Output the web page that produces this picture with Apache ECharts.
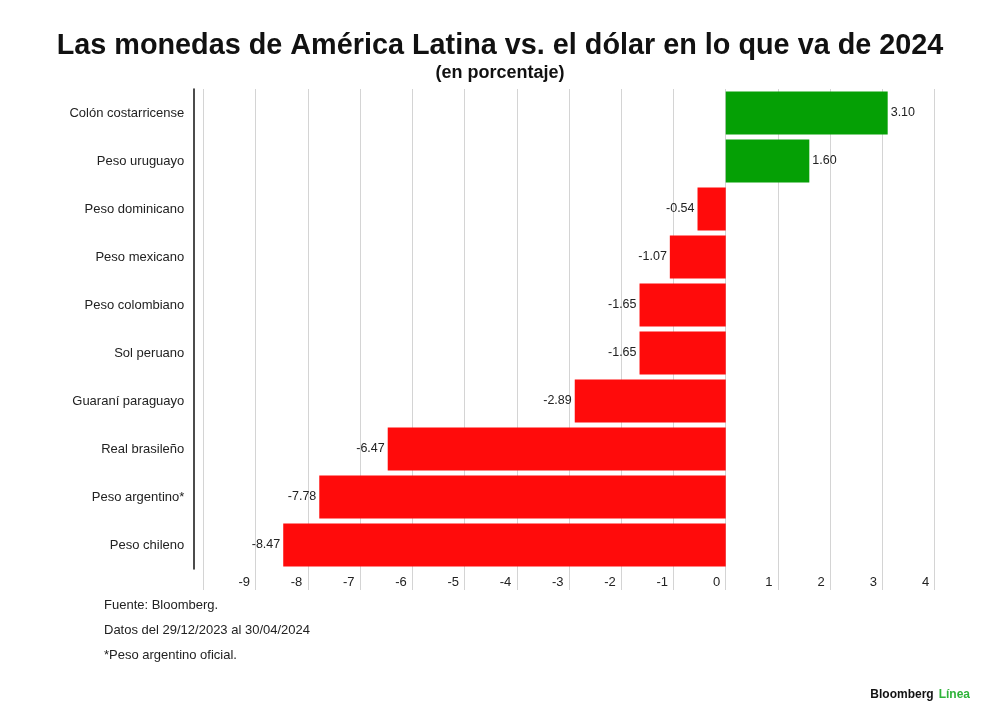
<!DOCTYPE html>
<html>
<head>
<meta charset="utf-8">
<script src="https://cdn.jsdelivr.net/npm/echarts@6/dist/echarts.min.js"></script>
<style>
  html, body { margin: 0; padding: 0; background: #fff; }
  #chart-container { width: 1000px; height: 721px; }
</style>
</head>
<body>
<div id="chart-container"></div>
<script>
var categories = [
  'Colón costarricense', 'Peso uruguayo', 'Peso dominicano', 'Peso mexicano',
  'Peso colombiano', 'Sol peruano', 'Guaraní paraguayo', 'Real brasileño',
  'Peso argentino*', 'Peso chileno'
];
var values = [3.10, 1.60, -0.54, -1.07, -1.65, -1.65, -2.89, -6.47, -7.78, -8.47];
var notes = ['Fuente: Bloomberg.', 'Datos del 29/12/2023 al 30/04/2024', '*Peso argentino oficial.'];

var dom = document.getElementById('chart-container');
var myChart = echarts.init(dom, null, { renderer: 'canvas' });

var barData = values.map(function (v) {
  return {
    value: v,
    itemStyle: { color: v >= 0 ? '#05a005' : '#ff0b0b' },
    label: { position: v >= 0 ? 'right' : 'left' }
  };
});

var font = '"Liberation Sans", Arial, sans-serif';

var option = {
  backgroundColor: '#fff',
  title: [
    {
      text: 'Las monedas de América Latina vs. el dólar en lo que va de 2024',
      left: 'center',
      top: 32,
      padding: 0,
      textStyle: {
        fontFamily: font,
        fontWeight: 'bold',
        fontSize: 28.8,
        color: '#111'
      }
    },
    {
      text: '(en porcentaje)',
      left: 'center',
      top: 64,
      padding: 0,
      textStyle: {
        fontFamily: font,
        fontWeight: 'bold',
        fontSize: 18,
        color: '#111'
      }
    },
    {
      text: notes.join('\n'),
      left: 104,
      top: 593,
      padding: 0,
      textStyle: {
        fontFamily: font,
        fontWeight: 'normal',
        fontSize: 13,
        lineHeight: 25,
        color: '#222'
      }
    },
    {
      text: '{a|Bloomberg} {b|Línea}',
      right: 30,
      top: 686,
      padding: 0,
      textStyle: {
        rich: {
          a: { fontFamily: font, fontWeight: 'bold', fontSize: 12, color: '#111' },
          b: { fontFamily: font, fontWeight: 'bold', fontSize: 12, color: '#2fb33a' }
        }
      }
    }
  ],
  grid: {
    left: 203.3,
    right: 65.3,
    top: 89,
    bottom: 152
  },
  xAxis: {
    type: 'value',
    min: -10,
    max: 4,
    interval: 1,
    axisLine: { show: false },
    axisTick: { show: true, length: 21, lineStyle: { color: '#d4d4d4' } },
    splitLine: { show: true, lineStyle: { color: '#d4d4d4', width: 1 } },
    axisLabel: {
      margin: 7,
      align: 'right',
      padding: [0, 5.5, 0, 0],
      fontFamily: font,
      fontSize: 13,
      color: '#222',
      formatter: function (v) { return v === -10 ? '' : String(v); }
    }
  },
  yAxis: {
    type: 'category',
    inverse: true,
    data: categories,
    offset: 10,
    axisLine: { show: true, onZero: false, lineStyle: { color: '#111', width: 1.5 } },
    axisTick: { show: false },
    axisLabel: {
      margin: 9,
      fontFamily: font,
      fontSize: 13,
      color: '#222'
    }
  },
  series: [
    {
      type: 'bar',
      data: barData,
      barWidth: '90%',
      label: {
        show: true,
        distance: 3,
        fontFamily: font,
        fontSize: 12.5,
        color: '#222',
        formatter: function (p) { return p.value.toFixed(2); }
      }
    }
  ]
};

myChart.setOption(option);
window.addEventListener('resize', myChart.resize);
</script>
</body>
</html>
